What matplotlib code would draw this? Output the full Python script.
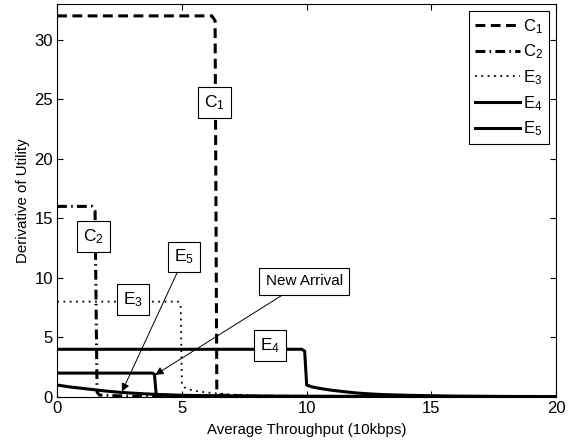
import matplotlib
matplotlib.use("Agg")
import matplotlib.pyplot as plt

plt.rcParams["font.family"] = ["Liberation Sans", "DejaVu Sans"]
plt.rcParams["mathtext.fontset"] = "custom"
plt.rcParams["mathtext.rm"] = "Liberation Sans"
plt.rcParams["mathtext.it"] = "Liberation Sans"

# derivative of utility curves, read as (throughput, value) samples
c1_x = [0, 6.2, 6.33, 6.4, 6.5, 8, 20]
c1_y = [32, 32, 31.6, 0.4, 0.15, 0.05, 0.0]

c2_x = [0, 1.4, 1.52, 1.6, 1.7, 3, 20]
c2_y = [16, 16, 15.6, 0.4, 0.15, 0.05, 0.0]

e3_x = [0, 4.85, 4.95, 5.0, 5.1, 5.3, 5.6, 6.0, 6.5, 7.0, 8.0, 9.0, 10.0, 12.0, 20.0]
e3_y = [8, 8, 7.8, 1.0, 0.8, 0.62, 0.48, 0.37, 0.28, 0.2, 0.12, 0.08, 0.05, 0.03, 0.01]

e4_x = [0, 9.8, 9.92, 10.0, 10.2, 10.5, 11.0, 11.5, 12.0, 12.5, 13.0, 14.0, 15.0, 16.0, 18.0, 20.0]
e4_y = [4, 4, 3.85, 1.0, 0.85, 0.72, 0.56, 0.44, 0.33, 0.26, 0.2, 0.14, 0.1, 0.07, 0.04, 0.03]

e5_x = [0, 0.5, 1.0, 1.5, 2.0, 2.5, 3.0, 3.5, 4.0, 5.0, 6.0, 7.0, 8.0, 10.0, 12.0, 20.0]
e5_y = [1.0, 0.84, 0.72, 0.6, 0.48, 0.39, 0.32, 0.26, 0.21, 0.14, 0.1, 0.07, 0.05, 0.03, 0.02, 0.01]

# E5 after the new arrival
arr_x = [0, 3.82, 3.9, 3.97, 4.1, 5.0, 20.0]
arr_y = [2, 2, 1.9, 0.2, 0.15, 0.08, 0.01]

fig = plt.figure(figsize=(5.83, 4.42), dpi=100)
ax = fig.add_axes([0.098, 0.102, 0.856, 0.889])

k = dict(color="black", lw=2.2)
ax.plot(c1_x, c1_y, linestyle=(0, (3.2, 1.8)), label="C$_1$", **k)
ax.plot(c2_x, c2_y, linestyle=(0, (3.2, 1.4, 0.5, 1.4)), label="C$_2$", **k)
ax.plot(e3_x, e3_y, color="black", lw=1.3, linestyle=(0, (1, 2.5)), label="E$_3$")
ax.plot(e4_x, e4_y, linestyle="-", label="E$_4$", **k)
ax.plot(e5_x, e5_y, linestyle="-", label="E$_5$", **k)
ax.plot(arr_x, arr_y, linestyle="-", **k)

ax.set_xlim(0, 20)
ax.set_ylim(0, 33)
ax.set_xticks([0, 5, 10, 15, 20])
ax.set_yticks([0, 5, 10, 15, 20, 25, 30])
ax.tick_params(direction="in", top=True, right=True, length=4, labelsize=12, pad=3)
for s in ax.spines.values():
    s.set_linewidth(0.8)
ax.set_xlabel("Average Throughput (10kbps)", fontsize=10.8, labelpad=5)
ax.set_ylabel("Derivative of Utility", fontsize=10.8, labelpad=3)

leg = ax.legend(loc="upper right", fontsize=12, handlelength=2.7, handletextpad=0.2,
                labelspacing=0.42, borderpad=0.35, borderaxespad=0, fancybox=False,
                framealpha=1, edgecolor="black", bbox_to_anchor=(0.986, 0.982))
leg.get_frame().set_linewidth(0.8)

box = dict(boxstyle="square,pad=0.35", fc="white", ec="black", lw=0.8)
for txt, x, y in [("C$_1$", 6.3, 24.7), ("C$_2$", 1.44, 13.5),
                  ("E$_3$", 3.05, 8.2), ("E$_4$", 8.54, 4.3)]:
    ax.text(x, y, txt, fontsize=12.5, ha="center", va="center", bbox=box)

arrow = dict(arrowstyle="-|>", color="black", lw=0.7, mutation_scale=12, shrinkA=0, shrinkB=0)
ax.annotate("E$_5$", xy=(2.6, 0.45), xytext=(5.1, 11.75), fontsize=12.5,
            ha="center", va="center", bbox=box, arrowprops=arrow)
ax.annotate("New Arrival", xy=(3.93, 1.85), xytext=(9.9, 9.7), fontsize=11,
            ha="center", va="center", bbox=dict(boxstyle="square,pad=0.4", fc="white",
                                                ec="black", lw=0.8),
            arrowprops=arrow)

fig.savefig("out.png", dpi=100, facecolor="white")
